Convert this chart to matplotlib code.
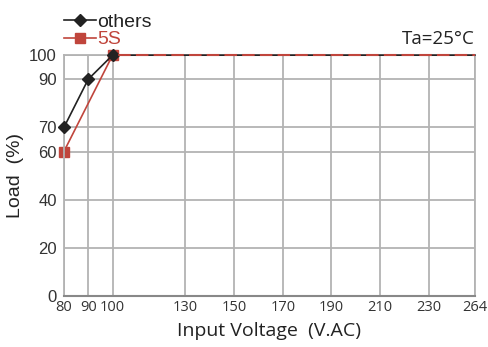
import numpy as np
import matplotlib
matplotlib.use("Agg")
import matplotlib.pyplot as plt

# Data
x_ticks = [80, 90, 100, 130, 150, 170, 190, 210, 230, 264]
y_ticks = [0, 20, 40, 60, 70, 90, 100]
others_x = [80, 90, 100, 264]
others_y = [70, 90, 100, 100]
s5_x = [80, 100, 264]
s5_y = [60, 100, 100]

# axis positions (264 placed as if 249 on the linear scale)
tick_pos = [80, 90, 100, 130, 150, 170, 190, 210, 230, 249]

def xpos(v):
    return np.interp(v, x_ticks, tick_pos)

plt.rcParams['font.family'] = ['Liberation Sans', 'DejaVu Sans']

fig = plt.figure(figsize=(4.88, 3.47), dpi=100)
ax = fig.add_axes([0.131, 0.147, 0.842, 0.694])

red = '#c0453c'
dark = '#222222'
gridc = '#b3b3b3'
open_font = ['Open Sans', 'DejaVu Sans']

ax.set_xlim(80, 249)
ax.set_ylim(0, 100)
ax.set_xticks(tick_pos)
ax.set_xticklabels([str(t) for t in x_ticks], family=open_font, fontsize=10.5)
ax.set_yticks(y_ticks)
ax.grid(True, color=gridc, linewidth=1.3)
ax.set_axisbelow(True)
for s in ['top', 'right', 'left']:
    ax.spines[s].set_color(gridc)
    ax.spines[s].set_linewidth(1.3)
ax.spines['bottom'].set_color('#888888')
ax.spines['bottom'].set_linewidth(1.5)
ax.tick_params(axis='y', length=0, labelsize=12, colors='#333333', pad=5)
ax.tick_params(axis='x', length=0, colors='#333333', pad=3)

ax.plot(xpos(others_x), others_y, color=dark, lw=1.2, marker='D', ms=6,
        mfc=dark, mec=dark, markevery=[0, 1, 2], label='others',
        clip_on=False, zorder=3)
ax.plot(xpos(s5_x), s5_y, color=red, lw=1.2, marker='s', ms=7.5,
        mfc=red, mec=red, markevery=[0, 1], label='5S',
        clip_on=False, zorder=2)
# overlapping top segment shown dashed (red over black)
ax.plot(xpos([100, 264]), [100, 100], color=red, lw=1.5,
        linestyle=(6, (6, 2.5)), clip_on=False, zorder=3.5)

ax.set_xlabel('Input Voltage  (V.AC)', fontsize=14, family=open_font,
              color='#222222', labelpad=5)
ax.set_ylabel('Load  (%)', fontsize=14, color='#222222')
ax.yaxis.set_label_coords(-0.098, 0.5)

leg = fig.legend(handles=ax.get_lines()[:2], loc='upper left',
                 bbox_to_anchor=(0.132, 0.962), frameon=False,
                 handlelength=1.6, handletextpad=0.1,
                 borderpad=0, labelspacing=0.0, borderaxespad=0,
                 prop={'family': ['Liberation Sans', 'DejaVu Sans'], 'size': 14})
leg.get_texts()[0].set_color(dark)
leg.get_texts()[1].set_color(red)

ax.text(1.0, 1.03, 'Ta=25°C', transform=ax.transAxes, ha='right', va='bottom',
        fontsize=13.5, family=open_font, color='#222222')

fig.savefig('out.png', dpi=100)
